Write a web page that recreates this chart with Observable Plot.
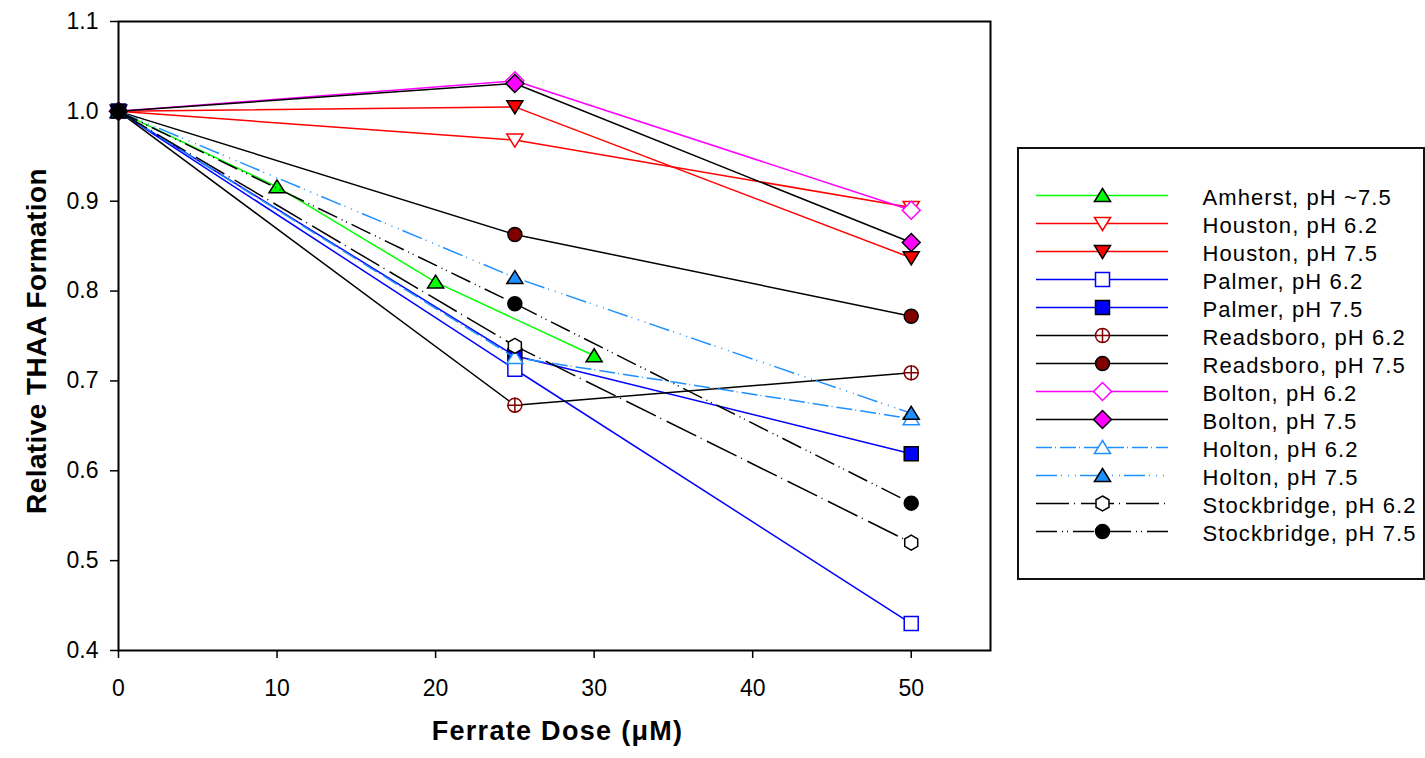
<!DOCTYPE html>
<html>
<head>
<meta charset="utf-8">
<script src="https://cdn.jsdelivr.net/npm/d3@7"></script>
<script src="https://cdn.jsdelivr.net/npm/@observablehq/plot@0.6"></script>
<style>
  html, body { margin: 0; padding: 0; background: #fff; }
  #wrap { position: relative; width: 1425px; height: 758px; overflow: hidden; background: #fff; }
  #legend { position: absolute; left: 1017px; top: 147px; width: 404px; height: 429px; border: 2px solid #111; background: #fff; }
  #legend text { letter-spacing: 1.1px; }
</style>
</head>
<body>
<div id="wrap">
  <div id="chart"></div>
  <div id="legend"></div>
</div>
<script>
// ---------------- data ----------------
const seriesNames = [
  "Amherst, pH ~7.5",
  "Houston, pH 6.2",
  "Houston, pH 7.5",
  "Palmer, pH 6.2",
  "Palmer, pH 7.5",
  "Readsboro, pH 6.2",
  "Readsboro, pH 7.5",
  "Bolton, pH 6.2",
  "Bolton, pH 7.5",
  "Holton, pH 6.2",
  "Holton, pH 7.5",
  "Stockbridge, pH 6.2",
  "Stockbridge, pH 7.5"
];
const amherstDoses = [0, 10, 20, 30];
const doses = [0, 25, 50];

const amherst       = [1.0, 0.916, 0.810, 0.728];
const houston62     = [1.0, 0.968, 0.893];
const houston75     = [1.0, 1.005, 0.837];
const palmer62      = [1.0, 0.713, 0.430];
const palmer75      = [1.0, 0.728, 0.619];
const readsboro62   = [1.0, 0.673, 0.709];
const readsboro75   = [1.0, 0.863, 0.772];
const bolton62      = [1.0, 1.034, 0.890];
const bolton75      = [1.0, 1.031, 0.854];
const holton62      = [1.0, 0.726, 0.658];
const holton75      = [1.0, 0.815, 0.664];
const stockbridge62 = [1.0, 0.739, 0.520];
const stockbridge75 = [1.0, 0.786, 0.564];

const xTicks = [0, 10, 20, 30, 40, 50];
const yTicks = [0.4, 0.5, 0.6, 0.7, 0.8, 0.9, 1.0, 1.1];
const xTitle = "Ferrate Dose (\u03BCM)";
const yTitle = "Relative THAA Formation";

// ---------------- symbols ----------------
const rad = size => Math.sqrt(size / Math.PI);
const symTriUp = { draw(c, size) { const r = rad(size); c.moveTo(0, -1.0 * r); c.lineTo(1.15 * r, 0.86 * r); c.lineTo(-1.15 * r, 0.86 * r); c.closePath(); } };
const symTriDown = { draw(c, size) { const r = rad(size); c.moveTo(0, 1.0 * r); c.lineTo(1.15 * r, -0.86 * r); c.lineTo(-1.15 * r, -0.86 * r); c.closePath(); } };
const symSquare = { draw(c, size) { const r = rad(size); c.moveTo(-r, -r); c.lineTo(r, -r); c.lineTo(r, r); c.lineTo(-r, r); c.closePath(); } };
const symCircle = { draw(c, size) { const r = rad(size); c.moveTo(r, 0); c.arc(0, 0, r, 0, 2 * Math.PI); c.closePath(); } };
const symCircleCross = { draw(c, size) { const r = rad(size); c.moveTo(r, 0); c.arc(0, 0, r, 0, 2 * Math.PI); c.closePath();
  c.moveTo(-1.12 * r, 0); c.lineTo(1.12 * r, 0); c.moveTo(0, -1.12 * r); c.lineTo(0, 1.12 * r); } };
const symDiamond = { draw(c, size) { const r = rad(size) * 1.28; c.moveTo(0, -r); c.lineTo(r, 0); c.lineTo(0, r); c.lineTo(-r, 0); c.closePath(); } };
const symHexagon = { draw(c, size) { const r = rad(size) * 1.07;
  for (let i = 0; i < 6; i++) { const a = -Math.PI / 2 + i * Math.PI / 3; const px = r * Math.cos(a), py = r * Math.sin(a); if (i === 0) c.moveTo(px, py); else c.lineTo(px, py); }
  c.closePath(); } };

// ---------------- styles ----------------
const LIME = "#00ff00", RED = "#ff0000", BLUE = "#0000ff", MAG = "#ff00ff", DODGER = "#1e90ff", MAROON = "#800000", BLK = "#000000";
const DASH_H62 = "16,3,1,4";
const DASH_H75 = "21,4,1,6,1,6,1,4";
const DASH_S62 = "33,5,1,6";
const DASH_S75 = "21,5,1,4,1,5";

const seriesDefs = [
  { name: seriesNames[0],  x: amherstDoses, y: amherst,       line: LIME,   dash: null,     sym: symTriUp,       fill: LIME,   mstroke: BLK },
  { name: seriesNames[1],  x: doses,        y: houston62,     line: RED,    dash: null,     sym: symTriDown,     fill: "white", mstroke: RED },
  { name: seriesNames[2],  x: doses,        y: houston75,     line: RED,    dash: null,     sym: symTriDown,     fill: RED,    mstroke: BLK },
  { name: seriesNames[3],  x: doses,        y: palmer62,      line: BLUE,   dash: null,     sym: symSquare,      fill: "white", mstroke: BLUE },
  { name: seriesNames[4],  x: doses,        y: palmer75,      line: BLUE,   dash: null,     sym: symSquare,      fill: BLUE,   mstroke: BLK },
  { name: seriesNames[5],  x: doses,        y: readsboro62,   line: BLK,    dash: null,     sym: symCircleCross, fill: "white", mstroke: MAROON },
  { name: seriesNames[6],  x: doses,        y: readsboro75,   line: BLK,    dash: null,     sym: symCircle,      fill: MAROON, mstroke: BLK },
  { name: seriesNames[7],  x: doses,        y: bolton62,      line: MAG,    dash: null,     sym: symDiamond,     fill: "white", mstroke: MAG },
  { name: seriesNames[8],  x: doses,        y: bolton75,      line: BLK,    dash: null,     sym: symDiamond,     fill: MAG,    mstroke: BLK },
  { name: seriesNames[9],  x: doses,        y: holton62,      line: DODGER, dash: DASH_H62, sym: symTriUp,       fill: "white", mstroke: DODGER },
  { name: seriesNames[10], x: doses,        y: holton75,      line: DODGER, dash: DASH_H75, sym: symTriUp,       fill: DODGER, mstroke: BLK },
  { name: seriesNames[11], x: doses,        y: stockbridge62, line: BLK,    dash: DASH_S62, sym: symHexagon,     fill: "white", mstroke: BLK },
  { name: seriesNames[12], x: doses,        y: stockbridge75, line: BLK,    dash: DASH_S75, sym: symCircle,      fill: BLK,    mstroke: BLK }
];

const FONT = "'Liberation Sans', Arial, Helvetica, sans-serif";

// ---------------- main chart ----------------
const seriesMarks = [];
for (const s of seriesDefs) {
  const rows = s.x.map((x, i) => ({ dose: x, value: s.y[i] }));
  const lineOpts = { x: "dose", y: "value", stroke: s.line, strokeWidth: 1.5, strokeLinecap: "butt", strokeLinejoin: "miter" };
  if (s.dash) lineOpts.strokeDasharray = s.dash;
  seriesMarks.push(Plot.line(rows, lineOpts));
  seriesMarks.push(Plot.dot(rows, { x: "dose", y: "value", symbol: s.sym, r: 7, fill: s.fill, stroke: s.mstroke, strokeWidth: 1.5 }));
}

const chart = Plot.plot({
  width: 1425,
  height: 758,
  marginLeft: 118,
  marginRight: 435,
  marginTop: 21,
  marginBottom: 108,
  style: { fontFamily: FONT, fontSize: "23px", color: "black", background: "white", overflow: "visible" },
  x: { domain: [0, 55] },
  y: { domain: [0.4, 1.1] },
  marks: [
    Plot.axisX({ ticks: xTicks, tickSize: 8, tickPadding: 21, tickFormat: d => String(d), strokeWidth: 1.5, label: null, fontSize: 23 }),
    Plot.axisY({ ticks: yTicks, tickSize: 8, tickPadding: 12, tickFormat: d3.format(".1f"), strokeWidth: 1.5, label: null, fontSize: 23 }),
    Plot.frame({ stroke: "black", strokeWidth: 2 }),
    ...seriesMarks,
    Plot.text([xTitle], { text: d => d, frameAnchor: "bottom", textAnchor: "middle", dx: 3, dy: 89.4, fontWeight: "bold", fontSize: 27, fill: "black" }),
    Plot.text([yTitle], { text: d => d, frameAnchor: "left", textAnchor: "middle", rotate: -90, dx: -81, dy: 5, fontWeight: "bold", fontSize: 28, fill: "black" })
  ]
});
document.getElementById("chart").appendChild(chart);
d3.select(chart).selectAll("text").each(function () {
  if (this.textContent === xTitle) this.style.letterSpacing = "1.3px";
  if (this.textContent === yTitle) this.style.letterSpacing = "0.4px";
});

// ---------------- legend ----------------
const legendMarks = [];
for (const s of seriesDefs) {
  const ruleOpts = { y: d => d, x1: () => 0, x2: () => 1, stroke: s.line, strokeWidth: 1.5, strokeLinecap: "butt" };
  if (s.dash) ruleOpts.strokeDasharray = s.dash;
  legendMarks.push(Plot.ruleY([s.name], ruleOpts));
  legendMarks.push(Plot.dot([s.name], { x: () => 0.5, y: d => d, symbol: s.sym, r: 7, fill: s.fill, stroke: s.mstroke, strokeWidth: 1.5 }));
}
legendMarks.push(Plot.text(seriesNames, { x: () => 1, y: d => d, text: d => d, dx: 34, dy: 2, textAnchor: "start", fontSize: 22, fill: "black" }));

const legend = Plot.plot({
  width: 404,
  height: 429,
  margin: 0,
  style: { fontFamily: FONT, fontSize: "22px", color: "black", background: "white", overflow: "visible" },
  x: { domain: [0, 1], range: [17, 149], axis: null },
  y: { type: "point", domain: seriesNames, range: [30, 398], axis: null },
  marks: legendMarks
});
document.getElementById("legend").appendChild(legend);
</script>
</body>
</html>
